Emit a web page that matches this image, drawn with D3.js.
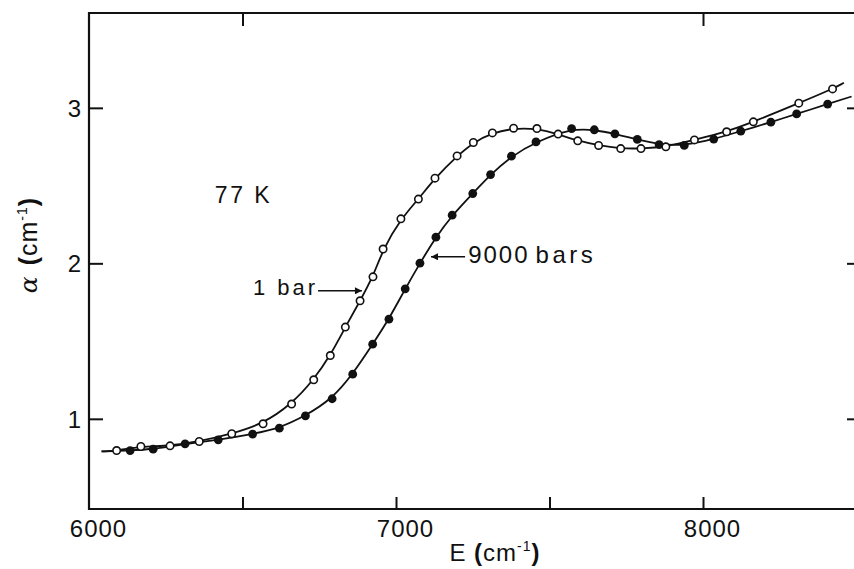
<!DOCTYPE html>
<html>
<head>
<meta charset="utf-8">
<script src="https://cdn.jsdelivr.net/npm/d3@7"></script>
<style>
  html, body { margin: 0; padding: 0; background: #fff; }
  svg { display: block; }
  text { font-family: "Liberation Sans", Arial, Helvetica, sans-serif; fill: #111; }
</style>
</head>
<body>
<svg id="chart" width="854" height="569"></svg>
<script>
// ---- data ----
const xTicks = [6000, 6500, 7000, 7500, 8000];
const xTickLabels = ["6000", "", "7000", "", "8000"];
const yTicks = [1, 2, 3];
const yTickLabels = ["1", "2", "3"];

// 1 bar (open circles)
const openE = [6090, 6169, 6264, 6359, 6465, 6567, 6660, 6732, 6786, 6835, 6883, 6925, 6958, 7016, 7073, 7127, 7199, 7252, 7314, 7383, 7459, 7528, 7592, 7660, 7732, 7798, 7879, 7972, 8077, 8164, 8312, 8422];
const openA = [0.796, 0.822, 0.826, 0.854, 0.904, 0.968, 1.095, 1.251, 1.407, 1.590, 1.759, 1.913, 2.092, 2.286, 2.413, 2.548, 2.691, 2.777, 2.839, 2.869, 2.867, 2.831, 2.788, 2.758, 2.738, 2.738, 2.749, 2.794, 2.846, 2.910, 3.030, 3.122];
const openLineEndsE = [6041, 8459];
const openLineEndsA = [0.790, 3.161];

// 9000 bars (filled circles)
const filledE = [6134, 6209, 6313, 6421, 6533, 6620, 6705, 6792, 6859, 6924, 6977, 7030, 7078, 7130, 7183, 7250, 7308, 7376, 7456, 7572, 7646, 7713, 7786, 7857, 7939, 8035, 8123, 8221, 8305, 8406];
const filledA = [0.796, 0.805, 0.839, 0.865, 0.902, 0.940, 1.019, 1.129, 1.287, 1.480, 1.641, 1.836, 2.001, 2.168, 2.310, 2.449, 2.571, 2.689, 2.781, 2.867, 2.859, 2.833, 2.797, 2.764, 2.758, 2.799, 2.850, 2.908, 2.961, 3.024];
const filledLineEndsE = [6041, 8484];
const filledLineEndsA = [0.790, 3.073];

// annotations (data coordinates)
const annoText = ["77 K", "1 bar", "9000 bars"];
const annoE = [6410, 6534, 7235];
const annoA = [2.389, 1.797, 2.003];
const arrowFromE = [null, 6746, 7225];
const arrowToE = [null, 6889, 7114];
const arrowA = [null, 1.823, 2.042];

// ---- layout ----
const svg = d3.select("#chart");
const mLeft = 89, mTop = 13, mBottom = 509, mRight = 856.5;
const x = d3.scaleLinear().domain([6000, 8500]).range([mLeft, mRight]);
const y = d3.scaleLinear().domain([0.42, 3.61]).range([mBottom, mTop]);

const defs = svg.append("defs");
defs.append("marker").attr("id", "arr").attr("viewBox", "0 0 10 10")
  .attr("refX", 10).attr("refY", 5).attr("markerWidth", 9).attr("markerHeight", 7)
  .attr("markerUnits", "userSpaceOnUse").attr("orient", "auto")
  .append("path").attr("d", "M0,0 L10,5 L0,10 Z").attr("fill", "#111");

// frame
const frame = svg.append("g").attr("stroke", "#111").attr("stroke-width", 2.2).attr("fill", "none");
frame.append("path").attr("d", `M${mRight + 2},${mTop} L${mLeft},${mTop} L${mLeft},${mBottom} L${mRight + 2},${mBottom}`);

// bottom axis
const xAxisB = d3.axisBottom(x).tickValues(xTicks).tickSize(0).tickPadding(0)
  .tickFormat((d, i) => xTickLabels[i]);
const gxb = svg.append("g").attr("transform", `translate(0,${mBottom})`).call(xAxisB);
gxb.select(".domain").remove();
gxb.selectAll(".tick line").attr("y2", -12).attr("stroke", "#111").attr("stroke-width", 2);
gxb.selectAll(".tick text").attr("dy", "1.15em").attr("dx", 9).attr("font-size", 24)
  .attr("letter-spacing", 1).style("font-family", "'Liberation Sans', Arial, sans-serif").attr("fill", "#111");
gxb.selectAll(".tick").filter(d => d === 6000).select("line").remove();

// top axis ticks
const xAxisT = d3.axisTop(x).tickValues([6500, 8000]).tickSize(0).tickFormat("");
const gxt = svg.append("g").attr("transform", `translate(0,${mTop})`).call(xAxisT);
gxt.select(".domain").remove();
gxt.selectAll(".tick line").attr("y2", 13).attr("stroke", "#111").attr("stroke-width", 2);

// left axis
const yAxisL = d3.axisLeft(y).tickValues(yTicks).tickSize(0).tickPadding(8)
  .tickFormat((d, i) => yTickLabels[i]);
const gyl = svg.append("g").attr("transform", `translate(${mLeft},0)`).call(yAxisL);
gyl.select(".domain").remove();
gyl.selectAll(".tick line").attr("x2", 14).attr("stroke", "#111").attr("stroke-width", 2);
gyl.selectAll(".tick text").attr("font-size", 24).attr("dy", "0.36em")
  .style("font-family", "'Liberation Sans', Arial, sans-serif").attr("fill", "#111");

// right axis ticks
const yAxisR = d3.axisRight(y).tickValues(yTicks).tickSize(0).tickFormat("");
const gyr = svg.append("g").attr("transform", `translate(856,0)`).call(yAxisR);
gyr.select(".domain").remove();
gyr.selectAll(".tick line").attr("x2", -9).attr("stroke", "#111").attr("stroke-width", 2);

// curves
const line = d3.line().x(d => x(d[0])).y(d => y(d[1])).curve(d3.curveBasis);
function curvePts(E, A, endsE, endsA) {
  const pts = E.map((e, i) => [e, A[i]]);
  return [[endsE[0], endsA[0]], ...pts, [endsE[1], endsA[1]]];
}
svg.append("path").attr("d", line(curvePts(openE, openA, openLineEndsE, openLineEndsA)))
  .attr("fill", "none").attr("stroke", "#111").attr("stroke-width", 1.8);
svg.append("path").attr("d", line(curvePts(filledE, filledA, filledLineEndsE, filledLineEndsA)))
  .attr("fill", "none").attr("stroke", "#111").attr("stroke-width", 1.8);

// markers
svg.append("g").selectAll("circle").data(filledE).join("circle")
  .attr("cx", d => x(d)).attr("cy", (d, i) => y(filledA[i])).attr("r", 4.4)
  .attr("fill", "#111");
svg.append("g").selectAll("circle").data(openE).join("circle")
  .attr("cx", d => x(d)).attr("cy", (d, i) => y(openA[i])).attr("r", 3.7)
  .attr("fill", "#fff").attr("stroke", "#111").attr("stroke-width", 1.6);

// annotations
const annoSize = [23, 22, 24];
const annoSpacing = [2.5, 3, 2];
annoText.forEach((t, i) => {
  const txt = svg.append("text").attr("x", x(annoE[i])).attr("y", y(annoA[i]))
    .attr("font-size", annoSize[i]).attr("letter-spacing", annoSpacing[i]);
  if (i === 2) {
    txt.append("tspan").text("9000");
    txt.append("tspan").attr("dx", 6).attr("letter-spacing", 3.5).text("bars");
  } else {
    txt.text(t);
  }
  if (arrowFromE[i] !== null) {
    svg.append("line").attr("x1", x(arrowFromE[i])).attr("x2", x(arrowToE[i]))
      .attr("y1", y(arrowA[i])).attr("y2", y(arrowA[i]))
      .attr("stroke", "#111").attr("stroke-width", 1.5).attr("marker-end", "url(#arr)");
  }
});

// axis titles
const xt = svg.append("text").attr("x", 495).attr("y", 561).attr("text-anchor", "middle")
  .attr("font-size", 24).attr("letter-spacing", 1);
xt.append("tspan").text("E ");
xt.append("tspan").attr("font-weight", "bold").text("(");
xt.append("tspan").text("cm");
xt.append("tspan").attr("font-size", 14).attr("dy", -10).text("-1");
xt.append("tspan").attr("dy", 10).attr("font-weight", "bold").text(")");

const yt = svg.append("text").attr("transform", "translate(37,245) rotate(-90)")
  .attr("text-anchor", "middle").attr("font-size", 25).attr("letter-spacing", 1);
yt.append("tspan").attr("font-family", "'DejaVu Serif', serif").attr("font-style", "italic").text("α");
yt.append("tspan").attr("dx", 10).attr("font-weight", "bold").text("(");
yt.append("tspan").text("cm");
yt.append("tspan").attr("font-size", 14).attr("dy", -10).text("-1");
yt.append("tspan").attr("dy", 10).attr("font-weight", "bold").text(")");
</script>
</body>
</html>
